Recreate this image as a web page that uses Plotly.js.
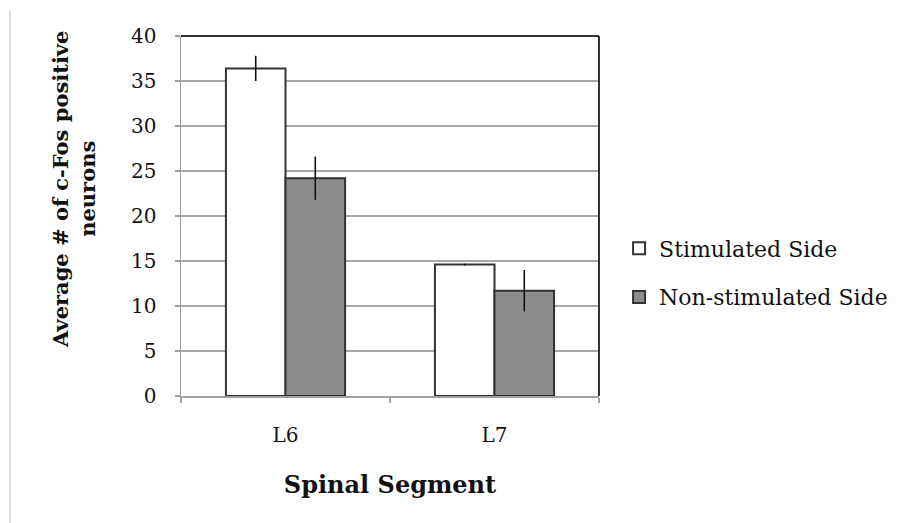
<!DOCTYPE html>
<html>
<head>
<meta charset="utf-8">
<script src="https://cdn.plot.ly/plotly-3.0.1.min.js"></script>
<style>
  html, body { margin: 0; padding: 0; background: #ffffff; }
  #chart { width: 908px; height: 523px; }
</style>
</head>
<body>
<div id="chart"></div>
<script>
// Spinal segments and mean c-Fos positive neuron counts (with error bars)
const segments = ['L6', 'L7'];
const stimulated = [36.4, 14.6];
const stimulatedErr = [1.4, 0.1];
const nonStimulated = [24.2, 11.7];
const nonStimulatedErr = [2.4, 2.3];
const yTicks = [0, 5, 10, 15, 20, 25, 30, 35, 40];

const FONT = 'DejaVu Serif, Liberation Serif, serif';

const traces = [
  {
    type: 'bar', name: 'Stimulated Side', x: segments, y: stimulated,
    legendgroup: 'a',
    marker: { color: '#ffffff', line: { color: '#333333', width: 2 } },
    error_y: { type: 'data', array: stimulatedErr, visible: true, color: '#111111', thickness: 1.6, width: 0 }
  },
  {
    type: 'bar', name: 'Non-stimulated Side', x: segments, y: nonStimulated,
    legendgroup: 'b',
    marker: { color: '#8c8c8c', line: { color: '#333333', width: 2 } },
    error_y: { type: 'data', array: nonStimulatedErr, visible: true, color: '#111111', thickness: 1.6, width: 0 }
  }
];

const layout = {
  width: 908, height: 523,
  margin: { l: 181, r: 309, t: 36, b: 127 },
  paper_bgcolor: '#ffffff', plot_bgcolor: '#ffffff',
  font: { family: FONT, color: '#111111', size: 20 },
  barmode: 'group', bargap: 0.43, bargroupgap: 0,
  xaxis: {
    type: 'category',
    showline: true, linecolor: '#a0a0a0', linewidth: 1.5,
    ticks: 'outside', tickson: 'boundaries', ticklen: 5, tickcolor: '#a0a0a0', tickwidth: 1.5,
    ticklabelstandoff: 20,
    tickfont: { family: FONT, size: 20 },
    showgrid: false, zeroline: false,
    title: { text: '<b>Spinal Segment</b>', font: { family: FONT, size: 24 }, standoff: 30 }
  },
  yaxis: {
    range: [0, 40], tickvals: yTicks,
    showline: true, linecolor: '#a0a0a0', linewidth: 1.5,
    ticks: 'outside', ticklen: 5, tickcolor: '#a0a0a0', tickwidth: 1.5,
    ticklabelstandoff: 14,
    tickfont: { family: FONT, size: 20 },
    showgrid: true, gridcolor: '#a8a8a8', gridwidth: 1.5,
    zeroline: false
  },
  legend: {
    x: 1.048, y: (396 - 273) / 360, xanchor: 'left', yanchor: 'middle',
    font: { family: FONT, size: 22 },
    tracegroupgap: 17, itemwidth: 30,
    bgcolor: 'rgba(0,0,0,0)'
  },
  showlegend: true,
  annotations: [{
    text: '<b>Average # of c-Fos positive<br>neurons</b>',
    xref: 'paper', yref: 'paper',
    x: (74 - 181) / 418, y: (396 - 190) / 360,
    xanchor: 'center', yanchor: 'middle',
    textangle: -90, showarrow: false,
    font: { family: FONT, size: 21 }
  }],
  shapes: [
    // plot frame, top and right
    { type: 'line', xref: 'paper', yref: 'paper', x0: 0, x1: 1, y0: 1, y1: 1, line: { color: '#333333', width: 2 } },
    { type: 'line', xref: 'paper', yref: 'paper', x0: 1, x1: 1, y0: 0, y1: 1, line: { color: '#333333', width: 2 } },
    // page edge rule on the left
    { type: 'line', xref: 'paper', yref: 'paper', x0: (10 - 181) / 418, x1: (10 - 181) / 418,
      y0: (396 - 10) / 360, y1: (396 - 523) / 360, line: { color: '#d4d4d4', width: 1.5 } }
  ]
};

Plotly.newPlot('chart', traces, layout, { staticPlot: true, displayModeBar: false });
</script>
</body>
</html>
